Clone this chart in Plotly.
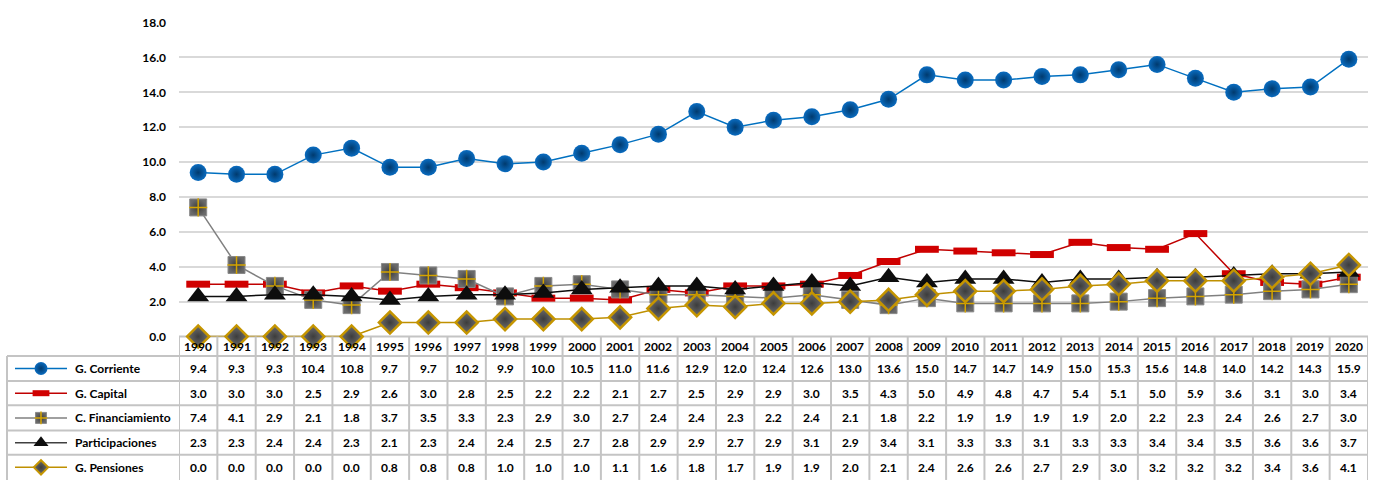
import plotly.graph_objects as go

# Gasto por componente, 1990-2020 (porcentaje)
years = list(range(1990, 2021))
corriente = [9.4, 9.3, 9.3, 10.4, 10.8, 9.7, 9.7, 10.2, 9.9, 10.0, 10.5, 11.0, 11.6, 12.9, 12.0,
             12.4, 12.6, 13.0, 13.6, 15.0, 14.7, 14.7, 14.9, 15.0, 15.3, 15.6, 14.8, 14.0, 14.2,
             14.3, 15.9]
capital = [3.0, 3.0, 3.0, 2.5, 2.9, 2.6, 3.0, 2.8, 2.5, 2.2, 2.2, 2.1, 2.7, 2.5, 2.9, 2.9, 3.0,
           3.5, 4.3, 5.0, 4.9, 4.8, 4.7, 5.4, 5.1, 5.0, 5.9, 3.6, 3.1, 3.0, 3.4]
financiamiento = [7.4, 4.1, 2.9, 2.1, 1.8, 3.7, 3.5, 3.3, 2.3, 2.9, 3.0, 2.7, 2.4, 2.4, 2.3, 2.2,
                  2.4, 2.1, 1.8, 2.2, 1.9, 1.9, 1.9, 1.9, 2.0, 2.2, 2.3, 2.4, 2.6, 2.7, 3.0]
participaciones = [2.3, 2.3, 2.4, 2.4, 2.3, 2.1, 2.3, 2.4, 2.4, 2.5, 2.7, 2.8, 2.9, 2.9, 2.7, 2.9,
                   3.1, 2.9, 3.4, 3.1, 3.3, 3.3, 3.1, 3.3, 3.3, 3.4, 3.4, 3.5, 3.6, 3.6, 3.7]
pensiones = [0.0, 0.0, 0.0, 0.0, 0.0, 0.8, 0.8, 0.8, 1.0, 1.0, 1.0, 1.1, 1.6, 1.8, 1.7, 1.9, 1.9,
             2.0, 2.1, 2.4, 2.6, 2.6, 2.7, 2.9, 3.0, 3.2, 3.2, 3.2, 3.4, 3.6, 4.1]
series_names = ["G. Corriente", "G. Capital", "C. Financiamiento", "Participaciones", "G. Pensiones"]
y_ticks = [0, 2, 4, 6, 8, 10, 12, 14, 16, 18]

W, H = 1378, 485
PLOT_L, PLOT_R = 179, 1368          # plot / table column span (px)
PLOT_T, PLOT_B = 15, 339            # y=18 and y=0 (px)
TABLE_L = 7
ROW_EDGES = [339, 359, 385, 410, 436, 461, 487]   # header + 5 data rows
FONT = "Lato"
GRID = "#d9d9d9"
BORDER = "#c4c4c4"


def py(p):
    return 1 - p / H


def px(p):
    return p / W


idx = list(range(len(years)))

# Marker / line styles per series
styles = [
    dict(line=dict(color="#0070c0", width=1.5),
         marker=dict(symbol="circle", size=17, color="#0a6cc0",
                     gradient=dict(type="radial", color="#003a6e"),
                     line=dict(width=0))),
    dict(line=dict(color="#c00000", width=1.5),
         marker=dict(symbol="line-ew", size=17, color="#d00000",
                     line=dict(color="#d00000", width=7))),
    dict(line=dict(color="#808080", width=1.5),
         marker=dict(symbol="square", size=17, color="#6a6a6a",
                     gradient=dict(type="radial", color="#3a3a3a"),
                     line=dict(color="#8a8a8a", width=1))),
    dict(line=dict(color="#0d0d0d", width=1.5),
         marker=dict(symbol="triangle-up", size=19, color="#0d0d0d",
                     line=dict(width=0))),
    dict(line=dict(color="#bf9000", width=1.5),
         marker=dict(symbol="diamond", size=17, color="#6f6f6f",
                     gradient=dict(type="radial", color="#3c3c3c"),
                     line=dict(color="#c59500", width=2.5))),
]
data = [corriente, capital, financiamiento, participaciones, pensiones]

fig = go.Figure()
for name, vals, st in zip(series_names, data, styles):
    fig.add_trace(go.Scatter(x=idx, y=vals, mode="lines+markers", name=name,
                             line=st["line"], marker=st["marker"],
                             cliponaxis=False, showlegend=False,
                             xaxis="x", yaxis="y"))
    if name == "C. Financiamiento":
        # gold cross drawn over the gray squares
        fig.add_trace(go.Scatter(x=idx, y=vals, mode="markers", showlegend=False,
                                 hoverinfo="skip", cliponaxis=False,
                                 marker=dict(symbol="cross-thin", size=13,
                                             line=dict(color="#d4a400", width=1.5)),
                                 xaxis="x", yaxis="y"))

# Legend keys inside the table's first column (pixel-space helper axes)
KEY_X0, KEY_X1, KEY_MID = 15, 67, 41
key_sizes = [13, 12, 11, 13, 11]
for r, (name, st) in enumerate(zip(series_names, styles)):
    yc = (ROW_EDGES[r + 1] + ROW_EDGES[r + 2]) / 2
    key_line = dict(st["line"])
    if name == "Participaciones":
        key_line["color"] = "#404040"
    fig.add_trace(go.Scatter(x=[KEY_X0, KEY_X1], y=[yc, yc], mode="lines",
                             line=key_line, showlegend=False, hoverinfo="skip",
                             cliponaxis=False, xaxis="x2", yaxis="y2"))
    mk = dict(st["marker"])
    mk["size"] = key_sizes[r]
    if name == "G. Capital":
        mk["line"] = dict(color="#d00000", width=6)
    if name == "G. Pensiones":
        mk["line"] = dict(color="#c59500", width=2)
    fig.add_trace(go.Scatter(x=[KEY_MID], y=[yc], mode="markers", marker=mk,
                             showlegend=False, hoverinfo="skip", cliponaxis=False,
                             xaxis="x2", yaxis="y2"))
    if name == "C. Financiamiento":
        fig.add_trace(go.Scatter(x=[KEY_MID], y=[yc], mode="markers", showlegend=False,
                                 hoverinfo="skip", cliponaxis=False,
                                 marker=dict(symbol="cross-thin", size=9,
                                             line=dict(color="#d4a400", width=1.5)),
                                 xaxis="x2", yaxis="y2"))

shapes = []
annotations = []
n = len(years)

# Table grid lines
for i in range(n + 1):
    shapes.append(dict(type="line", xref="x", yref="paper", x0=i - 0.5, x1=i - 0.5,
                       y0=py(ROW_EDGES[0]), y1=py(H + 2), line=dict(color=BORDER, width=2)))
shapes.append(dict(type="line", xref="paper", yref="paper", x0=px(TABLE_L), x1=px(TABLE_L),
                   y0=py(ROW_EDGES[1]), y1=py(H + 2), line=dict(color=BORDER, width=2)))
shapes.append(dict(type="line", xref="paper", yref="paper", x0=px(PLOT_L), x1=px(PLOT_R),
                   y0=py(ROW_EDGES[0]), y1=py(ROW_EDGES[0]), line=dict(color=BORDER, width=2),
                   layer="below"))
for e in ROW_EDGES[1:-1]:
    shapes.append(dict(type="line", xref="paper", yref="paper", x0=px(TABLE_L), x1=px(PLOT_R),
                       y0=py(e), y1=py(e), line=dict(color=BORDER, width=2)))

# Header: years
hy = (ROW_EDGES[0] + ROW_EDGES[1]) / 2
for i, yr in enumerate(years):
    annotations.append(dict(x=i, y=py(hy), xref="x", yref="paper", text=f"<b>{yr}</b>",
                            showarrow=False, font=dict(family=FONT, size=12, color="#000000"),
                            xanchor="center", yanchor="middle"))

# Rows: labels and values
for r, (name, vals) in enumerate(zip(series_names, data)):
    yc = (ROW_EDGES[r + 1] + ROW_EDGES[r + 2]) / 2
    annotations.append(dict(x=px(73), y=py(yc), xref="paper", yref="paper",
                            text=f"<b>{name}</b>", showarrow=False,
                            font=dict(family=FONT, size=12, color="#000000"),
                            xanchor="left", yanchor="middle"))
    for i, v in enumerate(vals):
        annotations.append(dict(x=i, y=py(yc), xref="x", yref="paper", text=f"<b>{v:.1f}</b>",
                                showarrow=False, font=dict(family=FONT, size=12, color="#000000"),
                                xanchor="center", yanchor="middle"))

fig.update_layout(
    width=W, height=H,
    margin=dict(l=0, r=0, t=0, b=0),
    paper_bgcolor="white", plot_bgcolor="rgba(0,0,0,0)",
    xaxis=dict(domain=[px(PLOT_L), px(PLOT_R)], range=[-0.5, n - 0.5], anchor="y",
               showgrid=False, zeroline=False, showticklabels=False, showline=False,
               fixedrange=True),
    yaxis=dict(domain=[py(PLOT_B), py(PLOT_T)], range=[0, 18], tickvals=y_ticks, anchor="x",
               ticktext=[f"<b>{t:.1f}</b>" for t in y_ticks],
               showgrid=True, gridcolor=GRID, gridwidth=2, zeroline=False,
               showline=False, ticks="", ticklabelstandoff=12,
               tickfont=dict(family=FONT, size=12, color="#000000"), fixedrange=True),
    xaxis2=dict(domain=[0, px(PLOT_L)], range=[0, PLOT_L], visible=False, anchor="y2",
                fixedrange=True),
    yaxis2=dict(domain=[0, py(PLOT_B)], range=[H, PLOT_B], visible=False, anchor="x2",
                fixedrange=True),
    shapes=shapes,
    annotations=annotations,
    showlegend=False,
)

fig.write_html("out.html")
